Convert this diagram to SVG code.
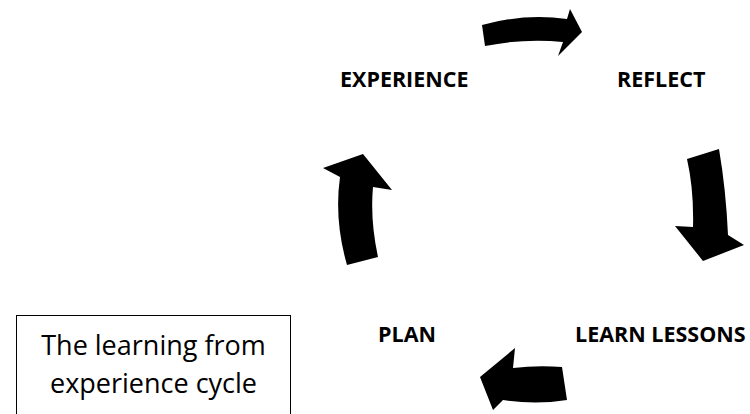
<svg xmlns="http://www.w3.org/2000/svg" width="750" height="414" viewBox="0 0 750 414">
<style>
.lbl{font-family:"Open Sans","Liberation Sans",sans-serif;font-weight:bold;font-size:21.5px;fill:#000}
.cap{font-family:"Open Sans","Liberation Sans",sans-serif;font-size:27px;fill:#000;text-anchor:middle}
.arr{fill:#000;stroke:none}
</style>
<rect width="750" height="414" fill="#fff"/>
<g id="connectors">
<path class="arr" d="M482,25 Q525,13 567,19 L570,9 L582,32 L558,56 L563,42 Q525,38 485,46 Z"/>
<path class="arr" d="M687,159 L719,149 Q726,190 728,235 L744,245 L703,261 L675,226 L693,227 Q694,190 687,159 Z"/>
<path class="arr" d="M562,367 Q537,365 513,368 L515,348 L480,377 L493,410 L503,400 Q535,405 567,400 Z"/>
<path class="arr" d="M363,154 L323,168 L340,177 Q334,220 347,265 L378,257 Q370,220 373,187 L392,190 Z"/>
</g>
<g id="experience"><text class="lbl" x="340" y="87">EXPERIENCE</text></g>
<g id="reflect"><text class="lbl" x="617" y="87">REFLECT</text></g>
<g id="learn-lessons"><text class="lbl" x="575" y="342">LEARN LESSONS</text></g>
<g id="plan"><text class="lbl" x="378" y="342">PLAN</text></g>
<g id="caption">
<rect x="16.5" y="315.5" width="274" height="110" fill="#fff" stroke="#000" stroke-width="1"/>
<text class="cap" x="153.5" y="355">The learning from</text>
<text class="cap" x="153.5" y="393">experience cycle</text>
</g>
</svg>
